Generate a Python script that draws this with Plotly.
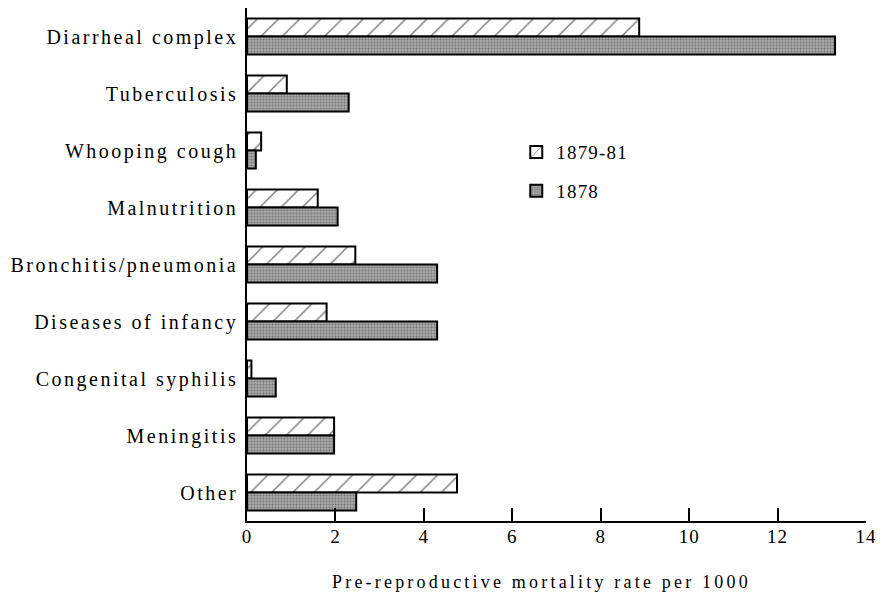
import plotly.graph_objects as go

categories = ["Diarrheal complex", "Tuberculosis", "Whooping cough", "Malnutrition",
              "Bronchitis/pneumonia", "Diseases of infancy", "Congenital syphilis",
              "Meningitis", "Other"]
rate_1879_81 = [8.87, 0.9, 0.32, 1.6, 2.45, 1.8, 0.1, 1.97, 4.75]
rate_1878 = [13.3, 2.3, 0.2, 2.05, 4.3, 4.3, 0.65, 1.97, 2.47]
x_ticks = [0, 2, 4, 6, 8, 10, 12, 14]
series_names = ["1879-81", "1878"]
x_title = "Pre-reproductive mortality rate per 1000"

FONT = "Liberation Serif"


def spaced(text, px):
    return f'<span style="letter-spacing:{px}px">{text}</span>'


fig = go.Figure()
fig.add_trace(go.Bar(
    y=categories, x=rate_1879_81, orientation="h", name=spaced(series_names[0], 1.2),
    legendgroup="a",
    marker=dict(color="white", line=dict(color="black", width=2),
                pattern=dict(shape="/", fgcolor="black", bgcolor="white", size=15, solidity=0.1)),
))
fig.add_trace(go.Bar(
    y=categories, x=rate_1878, orientation="h", name=spaced(series_names[1], 1.2),
    legendgroup="b",
    marker=dict(color="#9a9a9a", line=dict(color="black", width=2),
                pattern=dict(shape=".", fgcolor="#4a4a4a", bgcolor="#b4b4b4", size=3, solidity=0.5)),
))

fig.update_layout(
    width=878, height=584,
    margin=dict(l=239, r=20, t=0, b=71, autoexpand=False),
    paper_bgcolor="white", plot_bgcolor="white",
    barmode="group", bargap=0.37, bargroupgap=0,
    font=dict(family=FONT, color="black", size=18),
    legend=dict(x=0.435, y=0.756, xanchor="left", yanchor="top",
                font=dict(family=FONT, size=19), tracegroupgap=11,
                traceorder="grouped", bgcolor="rgba(0,0,0,0)"),
    showlegend=True,
    annotations=[dict(text=spaced(x_title, 3.2), xref="paper", yref="paper",
                      x=0.475, y=-0.119, xanchor="center", yanchor="middle",
                      showarrow=False, font=dict(family=FONT, size=18))],
)
fig.update_xaxes(
    range=[0, 14], tickvals=x_ticks, ticktext=[spaced(str(v), 1) for v in x_ticks],
    ticks="inside", ticklen=13, tickwidth=1.5,
    tickcolor="black", showline=True, linecolor="black", linewidth=1.5,
    showgrid=False, zeroline=False, tickfont=dict(family=FONT, size=19),
    automargin=False, ticklabelstandoff=-3,
)
fig.update_yaxes(
    autorange="reversed", showline=True, linecolor="black", linewidth=1.5,
    showgrid=False, zeroline=False, ticks="", ticklabelstandoff=3,
    tickvals=categories, ticktext=[spaced(c, 2.5) for c in categories],
    tickfont=dict(family=FONT, size=20), automargin=False,
)

fig.write_html("out.html")
